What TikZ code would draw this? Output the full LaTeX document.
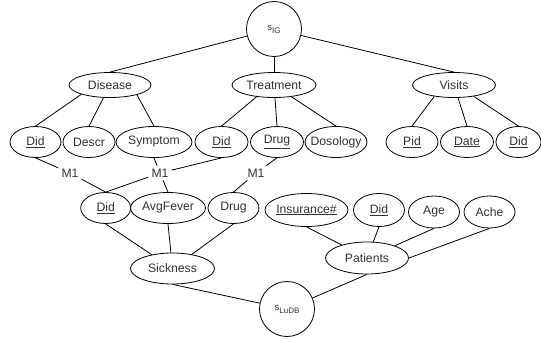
\documentclass[tikz,border=0pt]{standalone}
\usepackage{fontspec}
\setmainfont{Liberation Sans}
\usetikzlibrary{shapes.geometric}
\definecolor{tx}{HTML}{333333}
\newcommand\ctr[1]{\makebox[0pt]{#1}}
\newcommand\sbx[1]{\raisebox{-3pt}{\fontsize{8}{8}\selectfont #1}}
\begin{document}
\begin{tikzpicture}[x=1pt,y=-1pt,
  el/.style={draw, ellipse, inner sep=0pt, line width=0.8pt, text=tx, font=\fontsize{12.2}{14}\selectfont},
  cir/.style={draw, circle, inner sep=0pt, minimum size=55pt, line width=0.8pt, text=tx, font=\fontsize{9.5}{10}\selectfont},
  lbl/.style={inner sep=3pt, text=tx, font=\fontsize{12.2}{14}\selectfont},
  conn/.style={line width=0.8pt}
]
\useasboundingbox[fill=white] (0,0) rectangle (541,338);
% top
\node[cir] (sig) at (274,29) {s\sbx{IG}};
\node[el, minimum width=82pt, minimum height=25pt] (disease) at (110,85) {\ctr{Disease}};
\node[el, minimum width=84pt, minimum height=25pt] (treat) at (274,85) {\ctr{Treatment}};
\node[el, minimum width=83pt, minimum height=25pt] (visits) at (454,85) {\ctr{Visits}};
% row 2
\node[el, minimum width=51pt, minimum height=31pt] (did1) at (35.5,142) {\ctr{\underline{Did}}};
\node[el, minimum width=52pt, minimum height=31pt] (descr) at (89,142) {\ctr{Descr}};
\node[el, minimum width=76pt, minimum height=31pt] (symp) at (154,142) {\ctr{Symptom}};
\node[el, minimum width=53pt, minimum height=31pt] (did2) at (221.5,142) {\ctr{\underline{Did}}};
\node[el, minimum width=53pt, minimum height=31pt] (drug2) at (277,142) {\ctr{\underline{Drug}}};
\node[el, minimum width=62pt, minimum height=31pt] (doso) at (336,142) {\ctr{Dosology}};
\node[el, minimum width=52pt, minimum height=31pt] (pid) at (412,142) {\ctr{\underline{Pid}}};
\node[el, minimum width=53pt, minimum height=31pt] (date) at (467,142) {\ctr{\underline{Date}}};
\node[el, minimum width=45pt, minimum height=31pt] (did3) at (518.5,142) {\ctr{\underline{Did}}};
% M1 labels
\node[lbl] (m1a) at (70,173) {M1};
\node[lbl] (m1b) at (160,173) {M1};
\node[lbl] (m1c) at (256,173) {M1};
% row 3
\node[el, minimum width=50pt, minimum height=31pt] (did4) at (105.7,208) {\ctr{\underline{Did}}};
\node[el, minimum width=75pt, minimum height=31pt] (avg) at (168,208) {\ctr{AvgFever}};
\node[el, minimum width=51pt, minimum height=31pt] (drug3) at (233.5,208) {\ctr{Drug}};
\node[el, minimum width=83pt, minimum height=33pt] (ins) at (306.5,210) {\ctr{\underline{Insurance\#}}};
\node[el, minimum width=51pt, minimum height=33pt] (did5) at (379,210) {\ctr{\underline{Did}}};
\node[el, minimum width=51pt, minimum height=32pt] (age) at (434,212) {\ctr{Age}};
\node[el, minimum width=51pt, minimum height=32pt] (ache) at (489.5,212) {\ctr{Ache}};
% row 4
\node[el, minimum width=84pt, minimum height=31pt] (sick) at (172.5,268.5) {\ctr{Sickness}};
\node[el, minimum width=83pt, minimum height=32pt] (pat) at (367,258) {\ctr{Patients}};
\node[cir] (sludb) at (287,309) {s\sbx{LuDB}};
% connectors
\draw[conn] (sig) -- (disease.north);
\draw[conn] (sig) -- (treat);
\draw[conn] (sig) -- (visits.north);
\draw[conn] (disease.198) -- (did1.north);
\draw[conn] (disease) -- (descr.north);
\draw[conn] (disease.340) -- (symp.north);
\draw[conn] (treat.214) -- (did2.north);
\draw[conn] (treat) -- (drug2.north);
\draw[conn] (treat.326) -- (doso.north);
\draw[conn] (visits.210) -- (pid.north);
\draw[conn] (visits) -- (date.north);
\draw[conn] (visits.330) -- (did3.north);
\draw[conn] (did1.south) -- (m1a) -- (did4.north);
\draw[conn] (symp.south) -- (m1b) -- (avg.north);
\draw[conn] (did2.south) -- (m1b) -- (did4.north);
\draw[conn] (drug2.south) -- (m1c) -- (drug3.north);
\draw[conn] (did4.south) -- (sick);
\draw[conn] (avg.south) -- (sick);
\draw[conn] (drug3.south) -- (sick);
\draw[conn] (ins.south) -- (pat);
\draw[conn] (did5.south) -- (pat);
\draw[conn] (age.south) -- (pat);
\draw[conn] (ache.south) -- (pat.east);
\draw[conn] (sick.south) -- (sludb);
\draw[conn] (pat.south) -- (sludb);
\end{tikzpicture}
\end{document}
